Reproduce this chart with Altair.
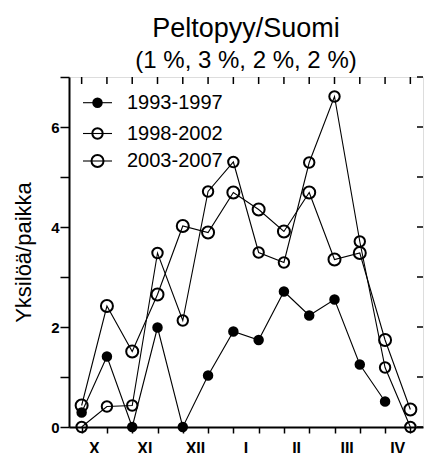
import altair as alt
import pandas as pd

# Half-month periods, October to April (two per month)
months = ["X", "XI", "XII", "I", "II", "III", "IV"]
series_names = ["1993-1997", "1998-2002", "2003-2007"]

# Individuals per site for each period
s1993 = [0.29, 1.41, 0.0, 1.99, 0.0, 1.03, 1.91, 1.74, 2.71, 2.23, 2.55, 1.25, 0.51]
s1998 = [0.0, 0.41, 0.43, 3.48, 2.13, 4.71, 5.30, 3.49, 3.29, 5.29, 6.61, 3.71, 1.19, 0.0]
s2003 = [0.43, 2.42, 1.51, 2.65, 4.02, 3.89, 4.69, 4.35, 3.91, 4.69, 3.35, 3.48, 1.74, 0.35]

rows = []
for name, vals in zip(series_names, [s1993, s1998, s2003]):
    for i, v in enumerate(vals):
        rows.append({"period": i, "value": v, "series": name})
df = pd.DataFrame(rows)

n_periods = 2 * len(months)
period_df = pd.DataFrame({"period": list(range(n_periods))})
month_df = pd.DataFrame({"month": months, "m": list(range(len(months)))})
ytick_df = pd.DataFrame({"tick": list(range(8))})
legend_df = pd.DataFrame({"series": series_names})

W, H = 354, 350
FONT = "Liberation Sans"

x_scale = alt.Scale(domain=[-0.5, n_periods - 0.5], nice=False, zero=False)
y_scale = alt.Scale(domain=[0, 7], nice=False)

x_axis = alt.Axis(values=list(range(n_periods)), labels=False, title=None,
                  tickSize=6, tickWidth=1.5, tickColor="black",
                  domainColor="black", domainWidth=2, grid=False)
y_axis = alt.Axis(values=list(range(8)),
                  labelExpr="datum.value % 2 === 0 ? datum.label : ''",
                  tickSize=9, tickWidth=1.5, tickColor="black",
                  domainColor="black", domainWidth=2, grid=False,
                  labelFont=FONT, labelFontSize=15, labelFontWeight="bold",
                  labelColor="black", labelPadding=1,
                  title="Yksilöä/paikka", titleFont=FONT, titleFontSize=22,
                  titleFontWeight="normal", titleColor="black", titlePadding=15)

size_scale = alt.Scale(domain=series_names, range=[72, 144, 306])
fill_scale = alt.Scale(domain=series_names, range=["black", "transparent", "transparent"])

# inward ticks along the top edge
top_ticks = alt.Chart(period_df).mark_rule(color="black", strokeWidth=1.5).encode(
    x=alt.X("period:Q", scale=x_scale, axis=x_axis),
    y=alt.value(0), y2=alt.value(7),
)

# inward ticks along the right edge
right_ticks = alt.Chart(ytick_df).mark_rule(color="black", strokeWidth=1.5).encode(
    y=alt.Y("tick:Q", scale=y_scale, axis=y_axis),
    x=alt.value(W - 6), x2=alt.value(W),
)

lines = alt.Chart(df).mark_line(color="black", strokeWidth=1.1).encode(
    x=alt.X("period:Q", scale=x_scale, axis=x_axis),
    y=alt.Y("value:Q", scale=y_scale, axis=y_axis),
    detail="series:N",
)

points = alt.Chart(df).mark_point(shape="circle", stroke="black", strokeWidth=2,
                                  opacity=1).encode(
    x=alt.X("period:Q", scale=x_scale, axis=x_axis),
    y=alt.Y("value:Q", scale=y_scale, axis=y_axis),
    size=alt.Size("series:N", scale=size_scale, legend=None),
    fill=alt.Fill("series:N", scale=fill_scale, legend=None),
)

# month names centred between their two half-month periods
month_labels = alt.Chart(month_df).transform_calculate(
    pos="datum.m * 2 + 0.5"
).mark_text(font=FONT, fontSize=16, fontWeight="bold", color="black",
            baseline="top", align="center").encode(
    x=alt.X("pos:Q", scale=x_scale, axis=x_axis),
    y=alt.value(H + 14),
    text="month:N",
)

main = alt.layer(top_ticks, right_ticks, lines, points, month_labels)

# legend in the upper-left corner of the plot, one row per series
leg_y = alt.Y("row:Q", scale=alt.Scale(domain=[1, 2, 3], range=[25.7, 56.5, 84]),
              axis=None)
leg_base = alt.Chart(legend_df).transform_window(row="row_number()")
leg_line = leg_base.mark_rule(color="black", strokeWidth=1.1).encode(
    y=leg_y, x=alt.value(14), x2=alt.value(43),
)
leg_pts = leg_base.mark_point(shape="circle", stroke="black", strokeWidth=2,
                              opacity=1).encode(
    y=leg_y, x=alt.value(28.5),
    size=alt.Size("series:N", scale=size_scale, legend=None),
    fill=alt.Fill("series:N", scale=fill_scale, legend=None),
)
leg_text = leg_base.mark_text(font=FONT, fontSize=20, color="black",
                              align="left", baseline="middle").encode(
    y=leg_y, x=alt.value(58), text="series:N",
)
legend = alt.layer(leg_line, leg_pts, leg_text)

chart = alt.layer(main, legend).resolve_scale(y="independent").properties(
    width=W, height=H,
    title=alt.TitleParams(text="Peltopyy/Suomi", subtitle="(1 %, 3 %, 2 %, 2 %)",
                          font=FONT, subtitleFont=FONT, fontSize=27, subtitleFontSize=24,
                          fontWeight="normal", color="black", subtitleColor="black",
                          anchor="middle", offset=2, subtitlePadding=6),
    autosize=alt.AutoSizeParams(type="none"),
    padding={"left": 69, "top": 77, "right": 5, "bottom": 26},
).configure_view(stroke="black", strokeWidth=2).configure(font=FONT, background="white")

chart.save("out.html", embed_options={"renderer": "svg", "actions": False})
